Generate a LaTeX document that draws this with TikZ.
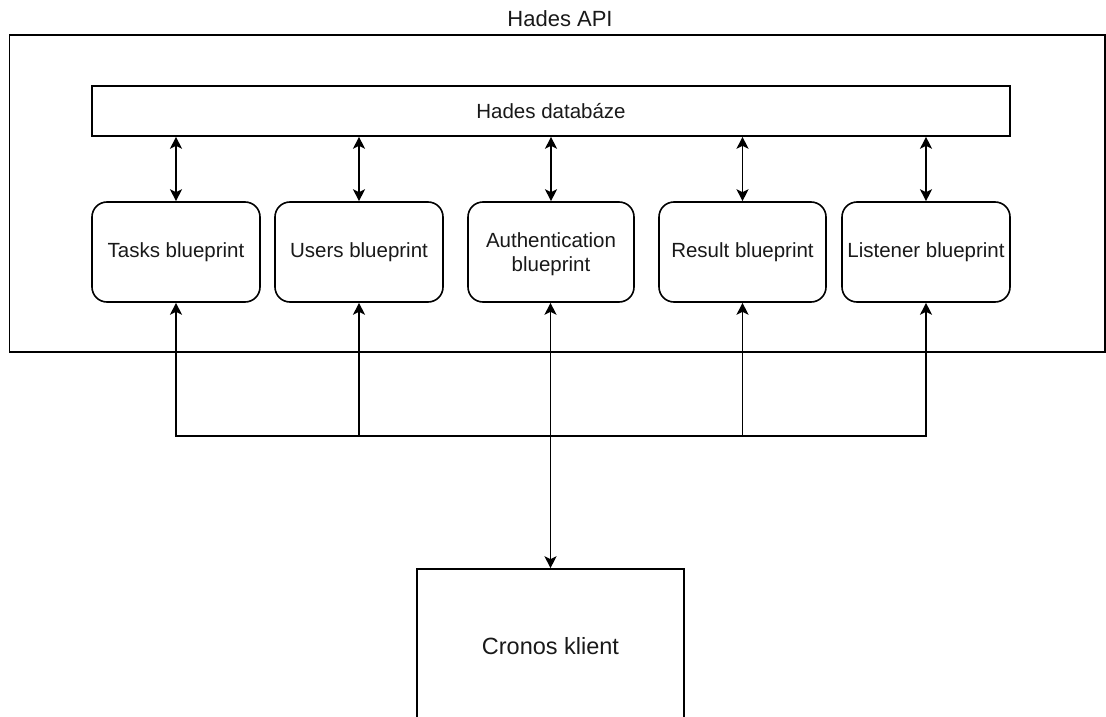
\documentclass[tikz,border=0pt]{standalone}
\usepackage{fontspec}
\setmainfont{Liberation Sans}
\usetikzlibrary{arrows.meta}
\begin{document}
\begin{tikzpicture}[x=1pt,y=-1pt,
  line width=1.6pt,
  >={Stealth[length=12pt,width=12pt,inset=3pt]},
  lbl/.style={font=\fontsize{20.5}{24}\selectfont, text=black!90},
  plainbox/.style={draw, inner sep=0pt, lbl},
  bpbox/.style={draw, rounded corners=15pt, inner sep=0pt, align=center,
    minimum width=168pt, minimum height=100pt, lbl}
]
\useasboundingbox (0,0) rectangle (1106,717);

% API frame and its title
\node[draw, inner sep=0pt, minimum width=1095.5pt, minimum height=317pt] (api) at (557.25,193.5) {};
\node[anchor=base, font=\fontsize{22}{26}\selectfont, text=black!90] (apititle) at (560,27) {Hades API};

% database
\node[plainbox, minimum width=918pt, minimum height=50pt] (db) at (551,111) {Hades databáze};

% blueprints
\node[bpbox] (tasks) at (176,252) {Tasks blueprint};
\node[bpbox] (users) at (359,252) {Users blueprint};
\node[bpbox, minimum width=166pt, text depth=0pt] (auth) at (551,252) {Authentication\\blueprint};
\node[bpbox, minimum width=167pt] (result) at (742.5,252) {Result blueprint};
\node[bpbox] (listener) at (926,252) {Listener blueprint};

% client
\node[plainbox, minimum width=267pt, minimum height=154pt, font=\fontsize{23.5}{28}\selectfont] (cronos) at (550.5,646) {Cronos klient};

% database links
\foreach \b in {tasks,users,auth,result,listener}
  \draw[<->] (db.south -| \b.north) -- (\b.north);

% client bus
\coordinate (bus) at (551,436);
\draw[<->] (cronos.north) -- (auth.south -| cronos.north);
\foreach \b in {tasks,users,result,listener}
  \draw[->] (bus) -| (\b.south);
\end{tikzpicture}
\end{document}
